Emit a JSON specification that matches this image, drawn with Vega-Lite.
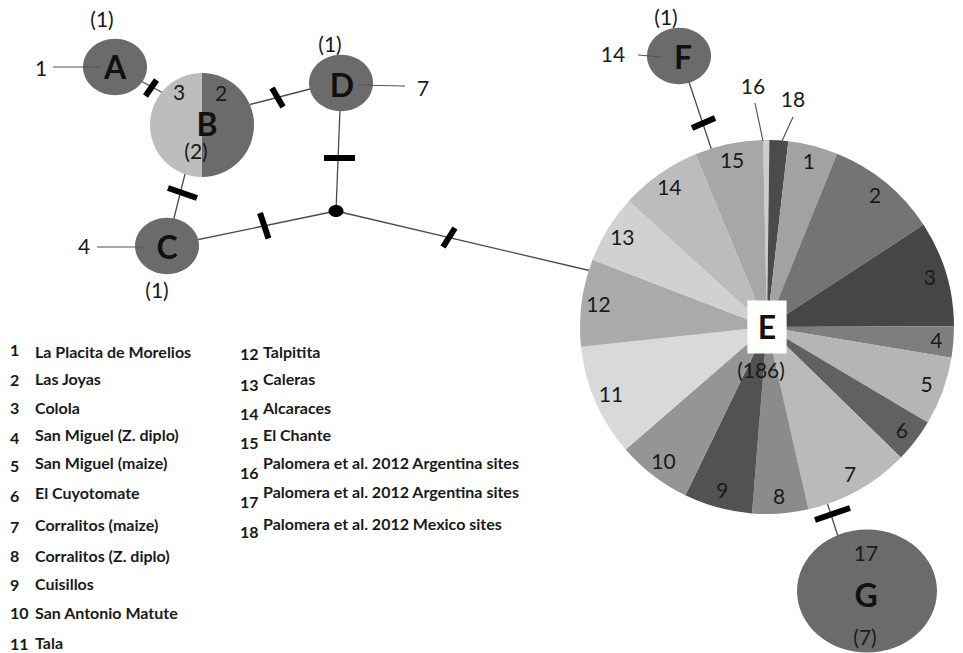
{
  "$schema": "https://vega.github.io/schema/vega-lite/v6.json",
  "width": 963,
  "height": 653,
  "padding": 0,
  "autosize": {"type": "none"},
  "background": "white",
  "config": {"view": {"stroke": null}, "text": {"font": "Lato"}},
  "datasets": {
    "nodes": [
      {"hap": "A", "count": 1, "x": 115, "y": 67},
      {"hap": "B", "count": 2, "x": 202, "y": 125, "site": [2, 3], "n": [1, 1], "seq": [1, 2]},
      {"hap": "C", "count": 1, "x": 167, "y": 246},
      {"hap": "D", "count": 1, "x": 341, "y": 83},
      {"hap": "E", "count": 186, "x": 767, "y": 327,
       "site": [16, 18, 1, 2, 3, 4, 5, 6, 7, 8, 9, 10, 11, 12, 13, 14, 15],
       "n": [1, 3, 8, 18, 17, 5, 11, 7, 17, 9, 11, 12, 18, 14, 11, 13, 11],
       "seq": [1, 2, 3, 4, 5, 6, 7, 8, 9, 10, 11, 12, 13, 14, 15, 16, 17]},
      {"hap": "F", "count": 1, "x": 679, "y": 56},
      {"hap": "G", "count": 7, "x": 867, "y": 591},
      {"hap": "mv", "count": 0, "x": 336, "y": 211}
    ],
    "links": [
      {"kind": "branch", "x": 115, "y": 67, "x2": 163, "y2": 93},
      {"kind": "branch", "x": 250, "y": 104.5, "x2": 341, "y2": 81},
      {"kind": "branch", "x": 188, "y": 162, "x2": 167, "y2": 246},
      {"kind": "branch", "x": 167, "y": 246, "x2": 336, "y2": 211},
      {"kind": "branch", "x": 341, "y": 83, "x2": 336, "y2": 211},
      {"kind": "branch", "x": 336, "y": 211, "x2": 600, "y2": 273},
      {"kind": "branch", "x": 681, "y": 58, "x2": 724, "y2": 187},
      {"kind": "branch", "x": 815, "y": 465, "x2": 852, "y2": 580},
      {"kind": "leader", "x": 53, "y": 67, "x2": 100, "y2": 67},
      {"kind": "leader", "x": 97, "y": 247, "x2": 143, "y2": 247},
      {"kind": "leader", "x": 358, "y": 85, "x2": 405, "y2": 86},
      {"kind": "leader", "x": 638, "y": 55, "x2": 662, "y2": 57},
      {"kind": "leader", "x": 755, "y": 103, "x2": 763, "y2": 141},
      {"kind": "leader", "x": 793, "y": 117, "x2": 782, "y2": 141}
    ],
    "mutations": [
      {"x": 156.5, "y": 80, "x2": 145.5, "y2": 96},
      {"x": 272, "y": 88, "x2": 283, "y2": 107},
      {"x": 168, "y": 188, "x2": 197, "y2": 198},
      {"x": 324, "y": 158, "x2": 355, "y2": 158},
      {"x": 260, "y": 213, "x2": 268.5, "y2": 238.5},
      {"x": 455, "y": 228, "x2": 443, "y2": 247},
      {"x": 692, "y": 128, "x2": 715, "y2": 118},
      {"x": 815, "y": 520, "x2": 850, "y2": 508}
    ],
    "labels": [
      {"role": "hap", "text": "A", "x": 115, "y": 67},
      {"role": "hap", "text": "B", "x": 207, "y": 124},
      {"role": "hap", "text": "C", "x": 167, "y": 247},
      {"role": "hap", "text": "D", "x": 342, "y": 85},
      {"role": "hap", "text": "E", "x": 767, "y": 327},
      {"role": "hap", "text": "F", "x": 683, "y": 57},
      {"role": "hap", "text": "G", "x": 866, "y": 595},
      {"role": "count", "text": "(1)", "x": 102, "y": 20},
      {"role": "count", "text": "(2)", "x": 196, "y": 152},
      {"role": "count", "text": "(1)", "x": 157, "y": 291},
      {"role": "count", "text": "(1)", "x": 330, "y": 45},
      {"role": "count", "text": "(186)", "x": 761, "y": 371},
      {"role": "count", "text": "(1)", "x": 666, "y": 18},
      {"role": "count", "text": "(7)", "x": 865, "y": 638},
      {"role": "site", "text": "1", "x": 41, "y": 69},
      {"role": "site", "text": "4", "x": 84, "y": 247},
      {"role": "site", "text": "7", "x": 423, "y": 89},
      {"role": "site", "text": "3", "x": 179, "y": 93},
      {"role": "site", "text": "2", "x": 221, "y": 94},
      {"role": "site", "text": "14", "x": 613, "y": 55},
      {"role": "site", "text": "17", "x": 866, "y": 554},
      {"role": "site", "text": "16", "x": 753, "y": 87},
      {"role": "site", "text": "18", "x": 793, "y": 100},
      {"role": "keynum", "text": "1", "x": 10, "y": 350},
      {"role": "keynum", "text": "2", "x": 10, "y": 379.5},
      {"role": "keynum", "text": "3", "x": 10, "y": 408},
      {"role": "keynum", "text": "4", "x": 10, "y": 437.5},
      {"role": "keynum", "text": "5", "x": 10, "y": 466},
      {"role": "keynum", "text": "6", "x": 10, "y": 496},
      {"role": "keynum", "text": "7", "x": 10, "y": 526.5},
      {"role": "keynum", "text": "8", "x": 10, "y": 555.5},
      {"role": "keynum", "text": "9", "x": 10, "y": 584.5},
      {"role": "keynum", "text": "10", "x": 10, "y": 612.5},
      {"role": "keynum", "text": "11", "x": 10, "y": 643.5},
      {"role": "keynum", "text": "12", "x": 240, "y": 354},
      {"role": "keynum", "text": "13", "x": 240, "y": 384.5},
      {"role": "keynum", "text": "14", "x": 240, "y": 413.5},
      {"role": "keynum", "text": "15", "x": 240, "y": 443},
      {"role": "keynum", "text": "16", "x": 240, "y": 472.5},
      {"role": "keynum", "text": "17", "x": 240, "y": 502},
      {"role": "keynum", "text": "18", "x": 240, "y": 531.5},
      {"role": "keyname", "text": "La Placita de Morelios", "x": 35, "y": 351.5},
      {"role": "keyname", "text": "Las Joyas", "x": 35, "y": 379},
      {"role": "keyname", "text": "Colola", "x": 35, "y": 407.5},
      {"role": "keyname", "text": "San Miguel (Z. diplo)", "x": 35, "y": 435},
      {"role": "keyname", "text": "San Miguel (maize)", "x": 35, "y": 462.5},
      {"role": "keyname", "text": "El Cuyotomate", "x": 35, "y": 493},
      {"role": "keyname", "text": "Corralitos (maize)", "x": 35, "y": 525},
      {"role": "keyname", "text": "Corralitos (Z. diplo)", "x": 35, "y": 556},
      {"role": "keyname", "text": "Cuisillos", "x": 35, "y": 584},
      {"role": "keyname", "text": "San Antonio Matute", "x": 35, "y": 612.5},
      {"role": "keyname", "text": "Tala", "x": 35, "y": 643},
      {"role": "keyname", "text": "Talpitita", "x": 263, "y": 351.5},
      {"role": "keyname", "text": "Caleras", "x": 263, "y": 379},
      {"role": "keyname", "text": "Alcaraces", "x": 263, "y": 407.5},
      {"role": "keyname", "text": "El Chante", "x": 263, "y": 435},
      {"role": "keyname", "text": "Palomera et al. 2012 Argentina sites", "x": 263, "y": 462.5},
      {"role": "keyname", "text": "Palomera et al. 2012 Argentina sites", "x": 263, "y": 492},
      {"role": "keyname", "text": "Palomera et al. 2012 Mexico sites", "x": 263, "y": 524}
    ]
  },
  "encoding": {
    "x": {"field": "x", "type": "quantitative", "scale": {"domain": [0, 963], "nice": false, "zero": false}, "axis": null},
    "y": {"field": "y", "type": "quantitative", "scale": {"domain": [0, 653], "nice": false, "zero": false, "reverse": true}, "axis": null}
  },
  "layer": [
    {
      "data": {"name": "links"},
      "transform": [{"filter": "datum.kind === 'branch'"}],
      "mark": {"type": "rule", "color": "#4a4a4a", "strokeWidth": 1.3},
      "encoding": {"x2": {"field": "x2"}, "y2": {"field": "y2"}}
    },
    {
      "data": {"name": "mutations"},
      "mark": {"type": "rule", "color": "#000000", "strokeWidth": 6, "strokeCap": "butt"},
      "encoding": {"x2": {"field": "x2"}, "y2": {"field": "y2"}}
    },
    {
      "data": {"name": "nodes"},
      "transform": [
        {"filter": "datum.hap === 'E'"},
        {"flatten": ["site", "n", "seq"]}
      ],
      "encoding": {
        "theta": {"field": "n", "type": "quantitative", "stack": true, "scale": {"range": [-0.021, 6.2622]}},
        "order": {"field": "seq", "type": "quantitative"}
      },
      "layer": [
        {
          "mark": {"type": "arc", "radius": 187},
          "encoding": {
            "color": {
              "field": "site", "type": "nominal", "legend": null,
              "scale": {
                "domain": [16, 18, 1, 2, 3, 4, 5, 6, 7, 8, 9, 10, 11, 12, 13, 14, 15],
                "range": ["#cdcdcd", "#4b4b4b", "#a2a2a2", "#747474", "#464646", "#7e7e7e", "#b5b5b5", "#616161", "#bababa", "#8b8b8b", "#525252", "#959595", "#d9d9d9", "#aaaaaa", "#d1d1d1", "#bcbcbc", "#a7a7a7"]
              }
            }
          }
        },
        {
          "mark": {"type": "text", "radius": 170, "fontSize": 21, "color": "#1a1a1a", "dy": 1},
          "encoding": {
            "text": {"field": "site", "type": "nominal"},
            "opacity": {"condition": {"test": "datum.site >= 16", "value": 0}, "value": 1}
          }
        }
      ]
    },
    {
      "data": {"name": "nodes"},
      "transform": [
        {"filter": "datum.hap === 'B'"},
        {"flatten": ["site", "n", "seq"]}
      ],
      "mark": {"type": "arc", "radius": 52},
      "encoding": {
        "theta": {"field": "n", "type": "quantitative", "stack": true},
        "order": {"field": "seq", "type": "quantitative"},
        "color": {"field": "site", "type": "nominal", "legend": null, "scale": {"domain": [2, 3], "range": ["#6b6b6b", "#bdbdbd"]}}
      }
    },
    {
      "data": {"name": "nodes"},
      "transform": [{"filter": {"field": "hap", "oneOf": ["A", "C", "D", "F", "G"]}}],
      "mark": {"type": "point", "shape": "M-1,0A1,0.88 0 1,1 1,0A1,0.88 0 1,1 -1,0Z", "filled": true, "opacity": 1, "color": "#6b6b6b", "strokeWidth": 0},
      "encoding": {
        "size": {"field": "count", "type": "quantitative", "legend": null, "scale": {"type": "linear", "domain": [1, 7], "range": [4096, 19600], "zero": false}}
      }
    },
    {
      "data": {"name": "nodes"},
      "transform": [{"filter": "datum.hap === 'mv'"}],
      "mark": {"type": "point", "shape": "M-1,0A1,0.8 0 1,1 1,0A1,0.8 0 1,1 -1,0Z", "filled": true, "opacity": 1, "color": "#000000", "size": 225, "strokeWidth": 0}
    },
    {
      "data": {"name": "nodes"},
      "transform": [{"filter": "datum.hap === 'E'"}],
      "mark": {"type": "point", "shape": "M-0.74,-1L0.74,-1L0.74,1L-0.74,1Z", "filled": true, "opacity": 1, "color": "#ffffff", "size": 2809, "strokeWidth": 0}
    },
    {
      "data": {"name": "links"},
      "transform": [{"filter": "datum.kind === 'leader'"}],
      "mark": {"type": "rule", "color": "#555555", "strokeWidth": 1.2},
      "encoding": {"x2": {"field": "x2"}, "y2": {"field": "y2"}}
    },
    {
      "data": {"name": "labels"},
      "transform": [{"filter": "datum.role === 'hap'"}],
      "mark": {"type": "text", "fontSize": 32, "fontWeight": "bold", "color": "#111111", "dy": 2},
      "encoding": {"text": {"field": "text", "type": "nominal"}}
    },
    {
      "data": {"name": "labels"},
      "transform": [{"filter": "datum.role === 'count' || datum.role === 'site'"}],
      "mark": {"type": "text", "fontSize": 21, "color": "#1a1a1a", "dy": 1},
      "encoding": {"text": {"field": "text", "type": "nominal"}}
    },
    {
      "data": {"name": "labels"},
      "transform": [{"filter": "datum.role === 'keynum' || datum.role === 'keyname'"}],
      "mark": {"type": "text", "fontSize": 16, "fontWeight": "bold", "color": "#1a1a1a", "align": "left", "dy": 1},
      "encoding": {"text": {"field": "text", "type": "nominal"}}
    }
  ],
  "resolve": {"scale": {"color": "independent", "theta": "independent"}}
}
